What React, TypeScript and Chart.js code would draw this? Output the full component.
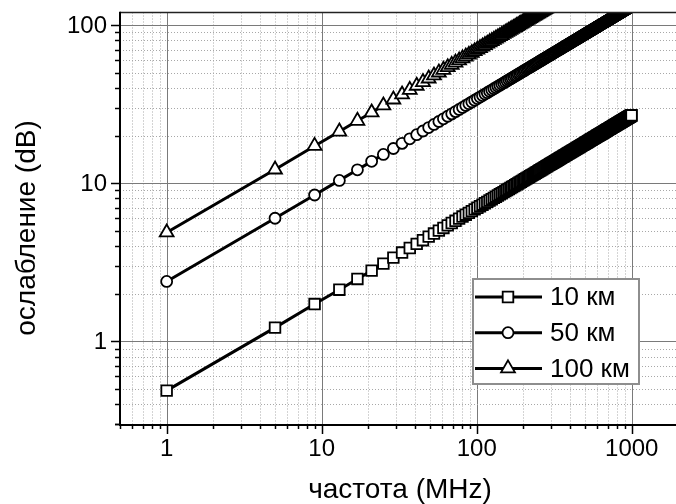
import React, { useEffect, useRef } from 'react';
import { Chart, registerables } from 'chart.js';

Chart.register(...registerables);

// ---- data ----
const frequencies = [
  1, 5, 9, 13, 17, 21, 25, 29, 33, 37, 41, 45, 49, 53, 57, 61, 65, 69, 73, 77,
  81, 85, 89, 93, 97, 101, 105, 109, 113, 117, 121, 125, 129, 133, 137, 141, 145, 149, 153, 157,
  161, 165, 169, 173, 177, 181, 185, 189, 193, 197, 201, 205, 209, 213, 217, 221, 225, 229, 233, 237,
  241, 245, 249, 253, 257, 261, 265, 269, 273, 277, 281, 285, 289, 293, 297, 301, 305, 309, 313, 317,
  321, 325, 329, 333, 337, 341, 345, 349, 353, 357, 361, 365, 369, 373, 377, 381, 385, 389, 393, 397,
  401, 405, 409, 413, 417, 421, 425, 429, 433, 437, 441, 445, 449, 453, 457, 461, 465, 469, 473, 477,
  481, 485, 489, 493, 497, 501, 505, 509, 513, 517, 521, 525, 529, 533, 537, 541, 545, 549, 553, 557,
  561, 565, 569, 573, 577, 581, 585, 589, 593, 597, 601, 605, 609, 613, 617, 621, 625, 629, 633, 637,
  641, 645, 649, 653, 657, 661, 665, 669, 673, 677, 681, 685, 689, 693, 697, 701, 705, 709, 713, 717,
  721, 725, 729, 733, 737, 741, 745, 749, 753, 757, 761, 765, 769, 773, 777, 781, 785, 789, 793, 797,
  801, 805, 809, 813, 817, 821, 825, 829, 833, 837, 841, 845, 849, 853, 857, 861, 865, 869, 873, 877,
  881, 885, 889, 893, 897, 901, 905, 909, 913, 917, 921, 925, 929, 933, 937, 941, 945, 949, 953, 957,
  961, 965, 969, 973, 977, 981, 985, 989, 993, 997,
];

const att10km = [
  0.488, 1.22, 1.72, 2.12, 2.48, 2.80, 3.10, 3.38, 3.64, 3.89, 4.13, 4.36, 4.59, 4.80, 5.01, 5.21, 5.41, 5.60, 5.78, 5.97,
  6.15, 6.32, 6.49, 6.66, 6.83, 6.99, 7.15, 7.31, 7.47, 7.62, 7.77, 7.92, 8.07, 8.21, 8.36, 8.50, 8.64, 8.78, 8.92, 9.05,
  9.19, 9.32, 9.45, 9.58, 9.71, 9.84, 9.96, 10.09, 10.21, 10.34, 10.46, 10.58, 10.70, 10.82, 10.94, 11.06, 11.18, 11.29, 11.41, 11.52,
  11.64, 11.75, 11.86, 11.97, 12.08, 12.19, 12.30, 12.41, 12.52, 12.63, 12.74, 12.84, 12.95, 13.05, 13.16, 13.26, 13.36, 13.47, 13.57, 13.67,
  13.77, 13.87, 13.97, 14.07, 14.17, 14.27, 14.37, 14.47, 14.56, 14.66, 14.76, 14.85, 14.95, 15.04, 15.14, 15.23, 15.33, 15.42, 15.51, 15.61,
  15.70, 15.79, 15.88, 15.97, 16.06, 16.15, 16.24, 16.33, 16.42, 16.51, 16.60, 16.69, 16.78, 16.87, 16.95, 17.04, 17.13, 17.22, 17.30, 17.39,
  17.47, 17.56, 17.64, 17.73, 17.81, 17.90, 17.98, 18.07, 18.15, 18.23, 18.32, 18.40, 18.48, 18.56, 18.65, 18.73, 18.81, 18.89, 18.97, 19.05,
  19.13, 19.21, 19.29, 19.37, 19.45, 19.53, 19.61, 19.69, 19.77, 19.85, 19.93, 20.00, 20.08, 20.16, 20.24, 20.31, 20.39, 20.47, 20.55, 20.62,
  20.70, 20.77, 20.85, 20.93, 21.00, 21.08, 21.15, 21.23, 21.30, 21.38, 21.45, 21.53, 21.60, 21.67, 21.75, 21.82, 21.89, 21.97, 22.04, 22.11,
  22.19, 22.26, 22.33, 22.40, 22.48, 22.55, 22.62, 22.69, 22.76, 22.84, 22.91, 22.98, 23.05, 23.12, 23.19, 23.26, 23.33, 23.40, 23.47, 23.54,
  23.61, 23.68, 23.75, 23.82, 23.89, 23.96, 24.03, 24.09, 24.16, 24.23, 24.30, 24.37, 24.44, 24.50, 24.57, 24.64, 24.71, 24.78, 24.84, 24.91,
  24.98, 25.04, 25.11, 25.18, 25.24, 25.31, 25.38, 25.44, 25.51, 25.58, 25.64, 25.71, 25.77, 25.84, 25.90, 25.97, 26.04, 26.10, 26.17, 26.23,
  26.30, 26.36, 26.42, 26.49, 26.55, 26.62, 26.68, 26.75, 26.81, 26.87,
];

const att50km = [
  2.39, 6.00, 8.42, 10.41, 12.15, 13.74, 15.20, 16.56, 17.85, 19.08, 20.25, 21.38, 22.47, 23.52, 24.54, 25.53, 26.49, 27.43, 28.34, 29.24,
  30.12, 30.98, 31.82, 32.65, 33.46, 34.26, 35.04, 35.82, 36.58, 37.33, 38.08, 38.81, 39.54, 40.25, 40.95, 41.65, 42.33, 43.01, 43.68, 44.35,
  45.01, 45.66, 46.31, 46.95, 47.58, 48.20, 48.82, 49.44, 50.05, 50.66, 51.26, 51.85, 52.45, 53.03, 53.61, 54.19, 54.76, 55.33, 55.90, 56.46,
  57.02, 57.57, 58.12, 58.67, 59.21, 59.75, 60.29, 60.82, 61.35, 61.88, 62.40, 62.92, 63.44, 63.96, 64.47, 64.98, 65.48, 65.99, 66.49, 66.99,
  67.48, 67.97, 68.46, 68.95, 69.44, 69.92, 70.40, 70.88, 71.36, 71.83, 72.31, 72.78, 73.25, 73.71, 74.18, 74.64, 75.10, 75.56, 76.01, 76.47,
  76.92, 77.37, 77.82, 78.27, 78.71, 79.16, 79.60, 80.04, 80.48, 80.92, 81.35, 81.79, 82.22, 82.65, 83.08, 83.51, 83.93, 84.36, 84.78, 85.20,
  85.62, 86.04, 86.46, 86.87, 87.29, 87.70, 88.11, 88.53, 88.94, 89.34, 89.75, 90.16, 90.56, 90.97, 91.37, 91.77, 92.17, 92.57, 92.96, 93.36,
  93.75, 94.15, 94.54, 94.93, 95.32, 95.71, 96.10, 96.49, 96.87, 97.26, 97.64, 98.02, 98.40, 98.78, 99.16, 99.54, 99.92, 100.3, 100.7, 101.0,
  101.4, 101.8, 102.2, 102.5, 102.9, 103.3, 103.6, 104.0, 104.4, 104.7, 105.1, 105.5, 105.8, 106.2, 106.6, 106.9, 107.3, 107.6, 108.0, 108.4,
  108.7, 109.1, 109.4, 109.8, 110.1, 110.5, 110.8, 111.2, 111.5, 111.9, 112.3, 112.6, 112.9, 113.3, 113.6, 114.0, 114.3, 114.7, 115.0, 115.3,
  115.7, 116.0, 116.4, 116.7, 117.1, 117.4, 117.7, 118.0, 118.4, 118.7, 119.1, 119.4, 119.8, 120.1, 120.4, 120.7, 121.1, 121.4, 121.7, 122.1,
  122.4, 122.7, 123.0, 123.4, 123.7, 124.0, 124.4, 124.7, 125.0, 125.3, 125.6, 126.0, 126.3, 126.6, 126.9, 127.3, 127.6, 127.9, 128.2, 128.5,
  128.9, 129.2, 129.5, 129.8, 130.1, 130.4, 130.7, 131.1, 131.4, 131.7,
];

const att100km = [
  4.88, 12.2, 17.2, 21.2, 24.8, 28.0, 31.0, 33.8, 36.4, 38.9, 41.3, 43.6, 45.9, 48.0, 50.1, 52.1, 54.1, 56.0, 57.8, 59.7,
  61.5, 63.2, 64.9, 66.6, 68.3, 69.9, 71.5, 73.1, 74.7, 76.2, 77.7, 79.2, 80.7, 82.1, 83.6, 85.0, 86.4, 87.8, 89.2, 90.5,
  91.9, 93.2, 94.5, 95.8, 97.1, 98.4, 99.6, 100.9, 102.1, 103.4, 104.6, 105.8, 107.0, 108.2, 109.4, 110.6, 111.8, 112.9, 114.1, 115.2,
  116.4, 117.5, 118.6, 119.7, 120.8, 121.9, 123.0, 124.1, 125.2, 126.3, 127.4, 128.4, 129.5, 130.5, 131.6, 132.6, 133.6, 134.7, 135.7, 136.7,
  137.7, 138.7, 139.7, 140.7, 141.7, 142.7, 143.7, 144.7, 145.6, 146.6, 147.6, 148.5, 149.5, 150.4, 151.4, 152.3, 153.3, 154.2, 155.1, 156.1,
  157.0, 157.9, 158.8, 159.7, 160.6, 161.5, 162.4, 163.3, 164.2, 165.1, 166.0, 166.9, 167.8, 168.7, 169.5, 170.4, 171.3, 172.2, 173.0, 173.9,
  174.7, 175.6, 176.4, 177.3, 178.1, 179.0, 179.8, 180.7, 181.5, 182.3, 183.2, 184.0, 184.8, 185.6, 186.5, 187.3, 188.1, 188.9, 189.7, 190.5,
  191.3, 192.1, 192.9, 193.7, 194.5, 195.3, 196.1, 196.9, 197.7, 198.5, 199.3, 200.0, 200.8, 201.6, 202.4, 203.1, 203.9, 204.7, 205.5, 206.2,
  207.0, 207.7, 208.5, 209.3, 210.0, 210.8, 211.5, 212.3, 213.0, 213.8, 214.5, 215.3, 216.0, 216.7, 217.5, 218.2, 218.9, 219.7, 220.4, 221.1,
  221.9, 222.6, 223.3, 224.0, 224.8, 225.5, 226.2, 226.9, 227.6, 228.4, 229.1, 229.8, 230.5, 231.2, 231.9, 232.6, 233.3, 234.0, 234.7, 235.4,
  236.1, 236.8, 237.5, 238.2, 238.9, 239.6, 240.3, 240.9, 241.6, 242.3, 243.0, 243.7, 244.4, 245.0, 245.7, 246.4, 247.1, 247.8, 248.4, 249.1,
  249.8, 250.4, 251.1, 251.8, 252.4, 253.1, 253.8, 254.4, 255.1, 255.8, 256.4, 257.1, 257.7, 258.4, 259.0, 259.7, 260.4, 261.0, 261.7, 262.3,
  263.0, 263.6, 264.2, 264.9, 265.5, 266.2, 266.8, 267.5, 268.1, 268.7,
];

const seriesLabels = ['10 км', '50 км', '100 км'];
const seriesMarkers = ['rect', 'circle', 'triangle'];
const xTickLabels = [1, 10, 100, 1000];
const yTickLabels = [1, 10, 100];
const xRange = [0.5, 1930];
const yRange = [0.3, 120];
const xTitle = 'частота (MHz)';
const yTitle = 'ослабление (dB)';

const FONT = "'Liberation Sans', Arial, sans-serif";

const markerRadius: Record<string, number> = { rect: 7.5, circle: 5.5, triangle: 8 };
const MARKER_BORDER = 1.8;

function gridMantissa(v: number): number {
  if (!(v > 0)) return 0;
  const e = Math.floor(Math.log10(v) + 1e-9);
  const m = v / Math.pow(10, e);
  const r = Math.round(m);
  return Math.abs(m - r) < 1e-6 && r >= 1 && r <= 9 ? r : 0;
}

function drawMarker(ctx: CanvasRenderingContext2D, style: string, r: number, x: number, y: number) {
  ctx.beginPath();
  if (style === 'rect') {
    const s = Math.SQRT1_2 * r;
    ctx.rect(x - s, y - s, 2 * s, 2 * s);
  } else if (style === 'triangle') {
    let rad = 0;
    ctx.moveTo(x + Math.sin(rad) * r, y - Math.cos(rad) * r);
    rad += (2 * Math.PI) / 3;
    ctx.lineTo(x + Math.sin(rad) * r, y - Math.cos(rad) * r);
    rad += (2 * Math.PI) / 3;
    ctx.lineTo(x + Math.sin(rad) * r, y - Math.cos(rad) * r);
    ctx.closePath();
  } else {
    ctx.arc(x, y, r, 0, Math.PI * 2);
  }
  ctx.fillStyle = '#fff';
  ctx.fill();
  ctx.lineWidth = MARKER_BORDER;
  ctx.strokeStyle = '#000';
  ctx.stroke();
}

function strokeGrid(ctx: CanvasRenderingContext2D, major: boolean) {
  if (major) {
    ctx.setLineDash([]);
    ctx.strokeStyle = '#7a7a7a';
  } else {
    ctx.setLineDash([1, 2]);
    ctx.strokeStyle = '#a8a8a8';
  }
}

const framePlugin = {
  id: 'frame',
  beforeDatasetsDraw(chart: any) {
    const { ctx, chartArea: a, scales } = chart;
    const xs = scales.x;
    const ys = scales.y;
    ctx.save();
    ctx.lineWidth = 1;
    xs.ticks.forEach((t: any) => {
      const m = gridMantissa(t.value);
      if (!m) return;
      const px = Math.round(xs.getPixelForValue(t.value)) + 0.5;
      if (px <= a.left + 1 || px >= a.right - 0.5) return;
      ctx.beginPath();
      strokeGrid(ctx, m === 1);
      ctx.moveTo(px, a.top);
      ctx.lineTo(px, a.bottom);
      ctx.stroke();
    });
    ys.ticks.forEach((t: any) => {
      const m = gridMantissa(t.value);
      if (!m) return;
      const py = Math.round(ys.getPixelForValue(t.value)) + 0.5;
      if (py <= a.top + 0.5 || py >= a.bottom - 1) return;
      ctx.beginPath();
      strokeGrid(ctx, m === 1);
      ctx.moveTo(a.left, py);
      ctx.lineTo(a.right, py);
      ctx.stroke();
    });
    ctx.restore();
  },
  afterDatasetsDraw(chart: any) {
    const { ctx, chartArea: a, scales } = chart;
    const xs = scales.x;
    const ys = scales.y;
    ctx.save();
    ctx.setLineDash([]);
    // frame
    ctx.strokeStyle = '#222';
    ctx.lineWidth = 1.5;
    ctx.beginPath();
    ctx.moveTo(a.left, a.top);
    ctx.lineTo(a.right, a.top);
    ctx.stroke();
    ctx.strokeStyle = '#000';
    ctx.lineWidth = 2;
    ctx.beginPath();
    ctx.moveTo(a.left, a.top - 0.75);
    ctx.lineTo(a.left, a.bottom + 1);
    ctx.lineTo(a.right, a.bottom + 1);
    ctx.stroke();
    // tick marks
    ctx.lineWidth = 1.5;
    xs.ticks.forEach((t: any) => {
      const m = gridMantissa(t.value);
      if (!m) return;
      const px = Math.round(xs.getPixelForValue(t.value)) + 0.5;
      const len = m === 1 ? 9 : 4;
      ctx.beginPath();
      ctx.moveTo(px, a.bottom + 1);
      ctx.lineTo(px, a.bottom + 1 + len);
      ctx.stroke();
    });
    ys.ticks.forEach((t: any) => {
      const m = gridMantissa(t.value);
      if (!m) return;
      const py = Math.round(ys.getPixelForValue(t.value)) + 0.5;
      const len = m === 1 ? 8 : 4;
      ctx.beginPath();
      ctx.moveTo(a.left - 1, py);
      ctx.lineTo(a.left - 1 - len, py);
      ctx.stroke();
    });
    // tick labels
    ctx.fillStyle = '#000';
    ctx.font = `24px ${FONT}`;
    ctx.textBaseline = 'middle';
    ctx.textAlign = 'center';
    xTickLabels.forEach((v) => {
      ctx.fillText(String(v), xs.getPixelForValue(v), a.bottom + 25);
    });
    ctx.textAlign = 'right';
    yTickLabels.forEach((v) => {
      ctx.fillText(String(v), a.left - 13, ys.getPixelForValue(v) + 1);
    });
    // legend
    const L = { left: 473, top: 279, width: 166, height: 105 };
    ctx.fillStyle = '#fff';
    ctx.fillRect(L.left, L.top, L.width, L.height);
    ctx.strokeStyle = '#8e8e8e';
    ctx.lineWidth = 2;
    ctx.strokeRect(L.left, L.top, L.width, L.height);
    chart.data.datasets.forEach((ds: any, i: number) => {
      const cy = L.top + 18 + i * 35.7;
      ctx.strokeStyle = '#000';
      ctx.lineWidth = 3;
      ctx.beginPath();
      ctx.moveTo(L.left + 2, cy);
      ctx.lineTo(L.left + 69, cy);
      ctx.stroke();
      drawMarker(ctx, ds.pointStyle, ds.pointRadius, L.left + 35, cy);
      ctx.fillStyle = '#000';
      ctx.font = `26px ${FONT}`;
      ctx.textAlign = 'left';
      ctx.textBaseline = 'middle';
      ctx.fillText(ds.label, L.left + 77, cy + 1);
    });
    // axis titles
    ctx.fillStyle = '#000';
    ctx.font = `28px ${FONT}`;
    ctx.textAlign = 'center';
    ctx.textBaseline = 'middle';
    ctx.fillText(xTitle, 400, 490);
    ctx.save();
    ctx.translate(27, 228);
    ctx.rotate(-Math.PI / 2);
    ctx.fillText(yTitle, 0, 0);
    ctx.restore();
    ctx.restore();
  },
};

const seriesValues = [att10km, att50km, att100km];

export default function App() {
  const ref = useRef<HTMLCanvasElement>(null);
  useEffect(() => {
    const canvas = ref.current;
    if (!canvas) return;
    const datasets = seriesValues.map((vals, si) => ({
      label: seriesLabels[si],
      data: frequencies.map((f, i) => ({ x: f, y: vals[i] })),
      borderColor: '#000',
      borderWidth: 3,
      pointStyle: seriesMarkers[si],
      pointRadius: markerRadius[seriesMarkers[si]],
      pointBackgroundColor: '#fff',
      pointBorderColor: '#000',
      pointBorderWidth: MARKER_BORDER,
      fill: false,
      tension: 0,
    }));
    const chart = new Chart(canvas, {
      type: 'line',
      data: { datasets },
      options: {
        animation: false,
        responsive: false,
        devicePixelRatio: 1,
        layout: { autoPadding: false, padding: { top: 12.5, right: 0, left: 0, bottom: 0 } },
        plugins: { legend: { display: false }, tooltip: { enabled: false }, title: { display: false } },
        scales: {
          x: {
            type: 'logarithmic',
            min: xRange[0],
            max: xRange[1],
            grid: { display: false },
            border: { display: false },
            ticks: { display: false, autoSkip: false },
            afterFit: (s: any) => {
              s.height = 80;
            },
          },
          y: {
            type: 'logarithmic',
            min: yRange[0],
            max: yRange[1],
            grid: { display: false },
            border: { display: false },
            ticks: { display: false, autoSkip: false },
            afterFit: (s: any) => {
              s.width = 120;
            },
          },
        },
      } as any,
      plugins: [framePlugin],
    } as any);
    return () => chart.destroy();
  }, []);
  return (
    <div style={{ position: 'fixed', left: 0, top: 0, width: 676, height: 504, overflow: 'hidden', background: '#fff' }}>
      <canvas ref={ref} width={676} height={504} style={{ display: 'block', width: 676, height: 504 }} />
    </div>
  );
}
